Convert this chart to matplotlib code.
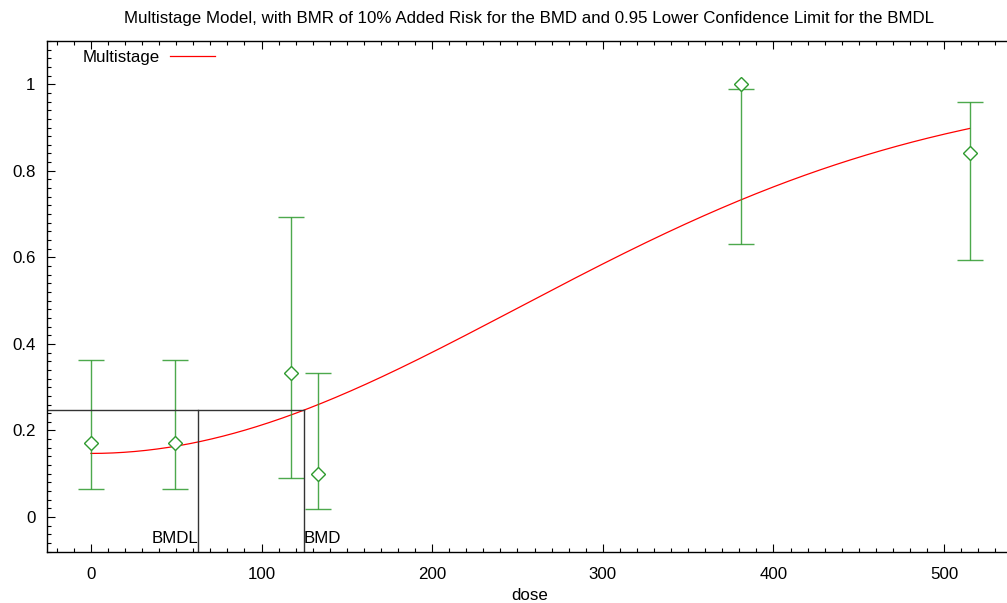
import numpy as np
import matplotlib.pyplot as plt
from matplotlib.ticker import MultipleLocator

plt.rcParams['font.family'] = ['Liberation Sans', 'DejaVu Sans']

# observed response fractions with confidence limits
dose = [0, 49, 117, 133, 381, 515]
resp = [0.172, 0.172, 0.333, 0.099, 1.0, 0.842]
lower = [0.065, 0.065, 0.091, 0.018, 0.630, 0.595]
upper = [0.364, 0.364, 0.693, 0.332, 0.990, 0.958]

# fitted multistage parameters
background = 0.147
beta1 = 0.0
beta2 = 8.0e-6
bmr = 0.10
bmd = 124.9
bmdl = 62.7
dose_max = 515

green = '#2e9a2e'
fs = 12.2
fig = plt.figure(figsize=(10.07, 6.03), dpi=100)
ax = fig.add_axes([0.0462, 0.0851, 0.9591, 0.847])

d = np.linspace(0, dose_max, 400)
p = background + (1 - background) * (1 - np.exp(-beta1 * d - beta2 * d ** 2))
ax.plot(d, p, color='red', lw=0.9, label='Multistage')

# confidence bars (upper limit can sit below the observed value)
ax.vlines(dose, lower, upper, color=green, lw=1.0, alpha=0.85)
ax.plot(dose, lower, ls='none', marker='_', ms=19, mew=1.0, color=green, alpha=0.85)
ax.plot(dose, upper, ls='none', marker='_', ms=19, mew=1.0, color=green, alpha=0.85)
ax.plot(dose, resp, ls='none', marker='D', ms=7.5, mfc='white', mec=green, mew=1.0)

xmin, xmax = -26, 540
ymin, ymax = -0.08, 1.1
bmr_level = background + bmr
ax.plot([xmin, bmd], [bmr_level, bmr_level], color='#333333', lw=1.0)
ax.plot([bmdl, bmdl], [ymin, bmr_level], color='#333333', lw=1.0)
ax.plot([bmd, bmd], [ymin, bmr_level], color='#333333', lw=1.0)
ax.text(bmdl, -0.068, 'BMDL', ha='right', va='bottom', fontsize=fs)
ax.text(bmd, -0.068, 'BMD', ha='left', va='bottom', fontsize=fs)

ax.set_xlim(xmin, xmax)
ax.set_ylim(ymin, ymax)
ax.xaxis.set_major_locator(MultipleLocator(100))
ax.xaxis.set_minor_locator(MultipleLocator(10))
ax.yaxis.set_minor_locator(MultipleLocator(0.02))
ax.set_yticks([0, 0.2, 0.4, 0.6, 0.8, 1])
ax.set_yticklabels(['0', '0.2', '0.4', '0.6', '0.8', '1'])
ax.tick_params(which='both', direction='in', top=True, right=False,
               labelsize=fs, width=0.8)
ax.tick_params(axis='x', pad=11)
ax.tick_params(axis='y', pad=8)
ax.tick_params(which='major', length=6)
ax.tick_params(which='minor', length=3)
ax.spines['right'].set_visible(False)
for s in ('left', 'bottom', 'top'):
    ax.spines[s].set_linewidth(1.0)

ax.set_xlabel('dose', fontsize=fs, labelpad=4.5)
ax.set_title('Multistage Model, with BMR of 10% Added Risk for the BMD and 0.95 Lower Confidence Limit for the BMDL',
             fontsize=fs, pad=13)

leg = ax.legend(loc='upper left', bbox_to_anchor=(0.022, 1.012), frameon=False,
                fontsize=fs, markerfirst=False, handlelength=2.7, handletextpad=0.55)

fig.savefig('out.png', dpi=100)
